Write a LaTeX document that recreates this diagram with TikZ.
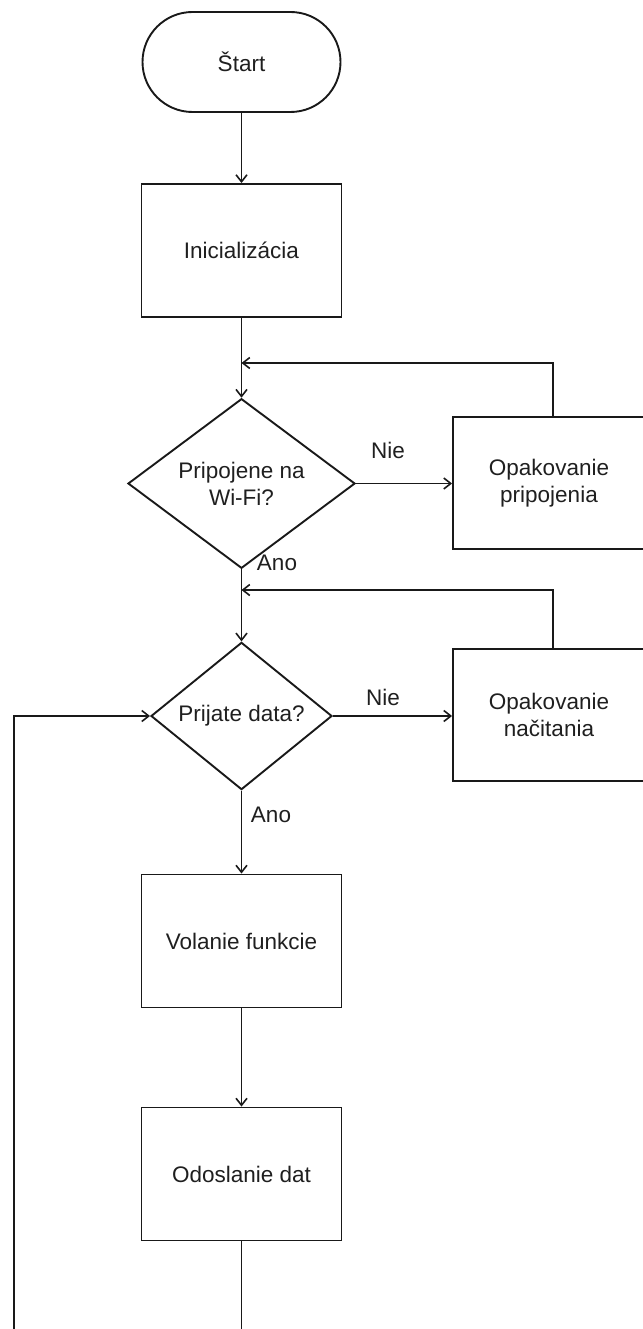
\documentclass[tikz,border=0pt]{standalone}
\usepackage{fontspec}
\setmainfont{Liberation Sans}
\usetikzlibrary{shapes.geometric,arrows.meta}
\begin{document}
\begin{tikzpicture}[x=1pt,y=-1pt,
  every node/.style={font=\fontsize{22.5}{27}\selectfont, text=black!88},
  line/.style={draw=black!90, line width=1.9pt},
  arr/.style={line, -{Straight Barb[length=7pt,width=11pt,line width=1.6pt]}},
  proc/.style={line, rectangle, minimum width=200pt, minimum height=133pt, inner sep=0pt, align=center},
  side/.style={proc, minimum width=192pt, minimum height=132pt},
  term/.style={line, rectangle, rounded corners=50pt, minimum width=198pt, minimum height=100pt, inner sep=0pt},
  dec/.style={line, diamond, inner sep=0pt, align=center},
  lbl/.style={inner sep=0pt}]
\path[use as bounding box] (0,0) rectangle (642,1329);

\node[term] (start) at (241.5,62) {Štart};
\node[proc] (init) at (241.5,250.5) {Inicializácia};
\node[dec, minimum width=227pt, minimum height=157pt] (wifi) at (241.5,483.5) {Pripojene na\\Wi-Fi?};
\node[side] (retry1) at (549,483) {Opakovanie\\pripojenia};
\node[dec, minimum width=181pt, minimum height=132pt] (data) at (241.5,716) {Prijate data?};
\node[side] (retry2) at (549,715) {Opakovanie\\načitania};
\node[proc] (call) at (241.5,941) {Volanie funkcie};
\node[proc] (send) at (241.5,1174) {Odoslanie dat};

\node[lbl] (nie1) at (388,450) {Nie};
\node[lbl] (ano1) at (277,563) {Ano};
\node[lbl] (nie2) at (383,697) {Nie};
\node[lbl] (ano2) at (271,815) {Ano};

\coordinate (j1) at (241.5,363);
\coordinate (j2) at (241.5,590);
\coordinate (bot) at (241.5,1329);
\coordinate (lbot) at (14,1329);
\coordinate (lcorner) at (14,716);

\draw[arr] (start) -- (init);
\draw[arr] (init) -- (wifi);
\draw[arr] (wifi.east) -- (wifi.east -| retry1.west);
\draw[arr] ([xshift=4pt]retry1.north) |- (j1);
\draw[arr] (wifi) -- (data);
\draw[arr] (data.east) -- (data.east -| retry2.west);
\draw[arr] ([xshift=4pt]retry2.north) |- (j2);
\draw[arr] (data) -- (call);
\draw[arr] (call) -- (send);
\draw[line] (send) -- (bot);
\draw[arr] (lbot) -- (lcorner) -- (data.west);
\end{tikzpicture}
\end{document}
